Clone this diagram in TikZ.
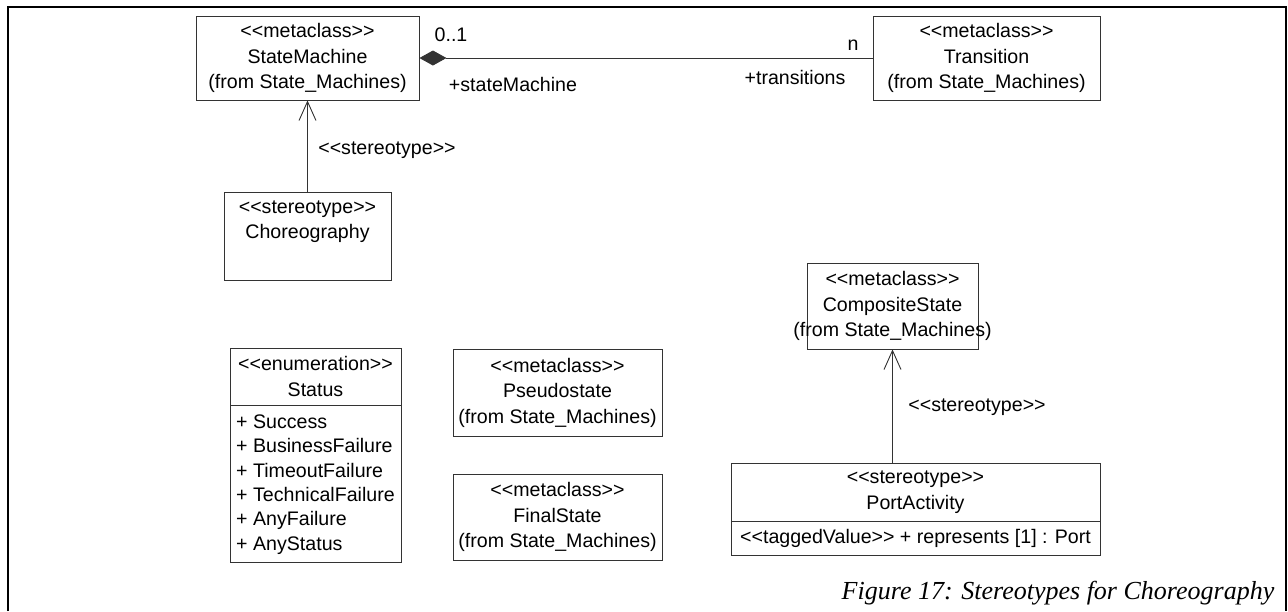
\documentclass[tikz,border=0pt]{standalone}
\usepackage{fontspec}
\newfontfamily\umlfont{Liberation Sans}
\newfontfamily\capfont{Liberation Serif}
\usetikzlibrary{arrows.meta}

\begin{document}
\begin{tikzpicture}[x=1pt,y=-1pt,
  font=\umlfont\fontsize{19.6}{25.5}\selectfont,
  umlbox/.style={draw=black!80, line width=0.9pt, align=center, inner sep=2pt},
  plain/.style={inner sep=0pt},
  conn/.style={draw=black!80, line width=0.9pt},
  gen/.style={conn, -{Straight Barb[length=19pt,width=17pt,line width=0.9pt]}},
  listfont/.style={font=\umlfont\fontsize{19.6}{24.4}\selectfont}
]
\useasboundingbox (0,0) rectangle (1288,611);

% open frame around the figure
\draw[line width=2.5pt] (8,611) -- (8,7) -- (1286,7) -- (1286,611);

% state machine classes
\node[umlbox, minimum width=223, minimum height=84] (sm) at (307.5,58)
  {<<metaclass>>\\StateMachine\\(from State\_Machines)};
\node[umlbox, minimum width=227, minimum height=84] (tr) at (986.5,58)
  {<<metaclass>>\\Transition\\(from State\_Machines)};
\node[umlbox, minimum width=167, minimum height=88] (ch) at (307.5,236)
  {<<stereotype>>\\Choreography\\\strut};

% composition between StateMachine and Transition
\draw[conn, {Diamond[length=27pt,width=15pt]}-] (sm.east) -- (sm.east -| tr.west);
\node[plain] (m1) at (451,35) {0..1};
\node[plain] (r1) at (513,84) {+stateMachine};
\node[plain] (m2) at (853,45) {n};
\node[plain] (r2) at (795,77) {+transitions};

% Choreography extends StateMachine
\draw[gen] (ch.north) -- (sm.south);
\node[plain] (s1) at (387,150) {<<stereotype>>};

% Status enumeration
\node[umlbox, minimum width=171, minimum height=57] (sth) at (315.5,376.5)
  {<<enumeration>>\\Status};
\node[umlbox, listfont, anchor=north, align=left, minimum width=171, minimum height=157] (stb) at (sth.south)
  {+ Success\\+ BusinessFailure\\+ TimeoutFailure\\+ TechnicalFailure\\+ AnyFailure\\+ AnyStatus};

% pseudo and final states
\node[umlbox, minimum width=209, minimum height=87] (ps) at (557.5,392.5)
  {<<metaclass>>\\Pseudostate\\(from State\_Machines)};
\node[umlbox, minimum width=209, minimum height=86] (fs) at (557.5,517)
  {<<metaclass>>\\FinalState\\(from State\_Machines)};

% CompositeState (its text runs past the box)
\node[draw=black!80, line width=0.9pt, minimum width=171, minimum height=86] (cs) at (892.5,306) {};
\node[align=center, inner sep=0pt] (cst) at (cs.center)
  {<<metaclass>>\\CompositeState\\(from State\_Machines)};

% PortActivity stereotype
\node[umlbox, minimum width=369, minimum height=58] (pah) at (915.5,492)
  {<<stereotype>>\\PortActivity};
\node[umlbox, anchor=north, align=left, minimum width=369, minimum height=34] (pab) at (pah.south)
  {<<taggedValue>> + represents [1] : Port};

\draw[gen] (cs.south |- pah.north) -- (cs.south);
\node[plain] (s2) at (977,407) {<<stereotype>>};

% caption
\node[plain, font=\capfont\itshape\fontsize{26}{30}\selectfont] (cap) at (1058,593)
  {Figure 17: Stereotypes for Choreography};
\end{tikzpicture}
\end{document}
